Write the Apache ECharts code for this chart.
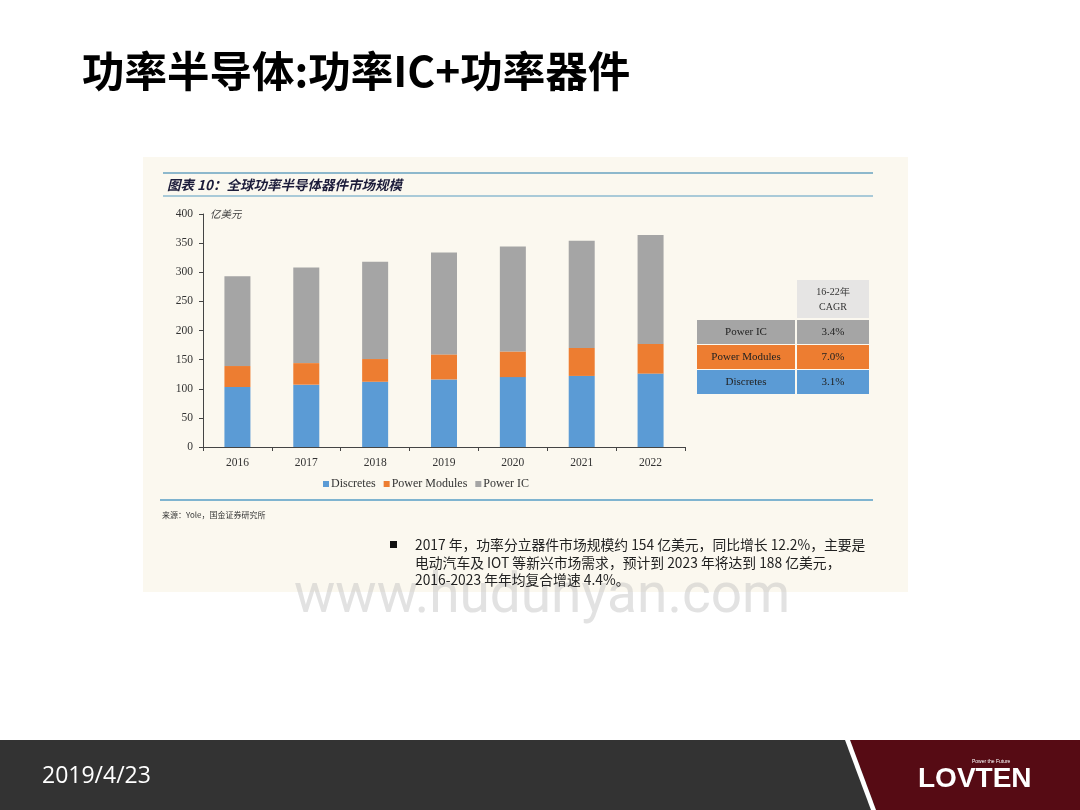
<!DOCTYPE html>
<html>
<head>
<meta charset="utf-8">
<script src="https://cdn.jsdelivr.net/npm/echarts@6/dist/echarts.min.js"></script>
<style>
html,body{margin:0;padding:0;background:#ffffff;}
#main{width:1080px;height:810px;}
</style>
</head>
<body>
<div id="main"></div>
<script>
// ---- data ----
var categories = ['2016', '2017', '2018', '2019', '2020', '2021', '2022'];
var discretes = [103, 107, 112, 116, 120, 122, 126];
var powerModules = [36, 37, 39, 43, 44, 48, 51];
var powerIC = [154, 164, 167, 175, 180, 184, 187];
var seriesNames = ['Discretes', 'Power Modules', 'Power IC'];
var tableRows = ['Power IC', 'Power Modules', 'Discretes'];
var tableCagr = ['3.4%', '7.0%', '3.1%'];
var tableHeader = ['16-22年', 'CAGR'];
var titleText = '功率半导体:功率IC+功率器件';
var captionText = '图表 10：全球功率半导体器件市场规模';
var unitText = '亿美元';
var sourceText = '来源：Yole，国金证券研究所';
var paraLines = [
  '2017 年，功率分立器件市场规模约 154 亿美元，同比增长 12.2%，主要是',
  '电动汽车及 IOT 等新兴市场需求，预计到 2023 年将达到 188 亿美元，',
  '2016-2023 年年均复合增速 4.4%。'
];
var dateText = '2019/4/23';
var logoText = 'LOVTEN';
var logoSub = 'Power the Future';
var watermarkText = 'www.hudunyan.com';

var colors = {blue: '#5b9bd5', orange: '#ed7d31', gray: '#a5a5a5'};
var rowColors = [colors.gray, colors.orange, colors.blue];
var serif = '"Liberation Serif", "DejaVu Serif", serif';
var cjk = '"Noto Sans CJK SC", sans-serif';

var chart = echarts.init(document.getElementById('main'), null, {renderer: 'canvas'});

var graphics = [];
// beige image background
graphics.push({type: 'rect', z: -20, shape: {x: 143, y: 157, width: 765, height: 435}, style: {fill: '#fbf8ef'}});
// watermark
graphics.push({type: 'text', z: -5, left: 294, top: 571, style: {text: watermarkText, font: '55px Roboto, "Liberation Sans", sans-serif', fill: 'rgba(190,190,190,0.45)'}});
// caption lines
graphics.push({type: 'line', z: -10, shape: {x1: 163, y1: 173, x2: 873, y2: 173}, style: {stroke: '#8db8cc', lineWidth: 2}});
graphics.push({type: 'line', z: -10, shape: {x1: 163, y1: 196, x2: 873, y2: 196}, style: {stroke: '#a9cad8', lineWidth: 2}});
graphics.push({type: 'line', z: -10, shape: {x1: 160, y1: 500, x2: 873, y2: 500}, style: {stroke: '#7fb4d0', lineWidth: 2}});
graphics.push({type: 'text', x: 167, y: 185, style: {text: captionText, font: 'italic bold 13.5px ' + cjk, fill: '#1c1c3a', textVerticalAlign: 'middle'}});
graphics.push({type: 'text', x: 210, y: 214, style: {text: unitText, font: 'italic 10.5px ' + cjk, fill: '#444', textVerticalAlign: 'middle'}});
graphics.push({type: 'text', x: 162, y: 515, style: {text: sourceText, font: '8px ' + cjk, fill: '#333', textVerticalAlign: 'middle'}});
// paragraph
graphics.push({type: 'rect', shape: {x: 390, y: 541, width: 7, height: 7}, style: {fill: '#111'}});
paraLines.forEach(function (t, i) {
  graphics.push({type: 'text', x: 415, y: 545 + i * 17.5, style: {text: t, font: '13.8px ' + cjk, fill: '#222', textVerticalAlign: 'middle'}});
});
// table
graphics.push({type: 'rect', shape: {x: 797, y: 280, width: 72, height: 38}, style: {fill: '#e6e5e4'}});
graphics.push({type: 'text', x: 833, y: 292, style: {text: tableHeader[0], font: '10px ' + serif, fill: '#333', textAlign: 'center', textVerticalAlign: 'middle'}});
graphics.push({type: 'text', x: 833, y: 307, style: {text: tableHeader[1], font: '10px ' + serif, fill: '#333', textAlign: 'center', textVerticalAlign: 'middle'}});
tableRows.forEach(function (name, i) {
  var y0 = 320 + i * 25;
  graphics.push({type: 'rect', shape: {x: 697, y: y0, width: 98, height: 24}, style: {fill: rowColors[i]}});
  graphics.push({type: 'rect', shape: {x: 797, y: y0, width: 72, height: 24}, style: {fill: rowColors[i]}});
  graphics.push({type: 'text', x: 746, y: y0 + 12, style: {text: name, font: '11px ' + serif, fill: '#222', textAlign: 'center', textVerticalAlign: 'middle'}});
  graphics.push({type: 'text', x: 833, y: y0 + 12, style: {text: tableCagr[i], font: '11px ' + serif, fill: '#222', textAlign: 'center', textVerticalAlign: 'middle'}});
});
// title
graphics.push({type: 'text', x: 82, y: 71, style: {text: titleText, font: 'bold 42.5px ' + cjk, fill: '#000', textVerticalAlign: 'middle'}});
// footer
graphics.push({type: 'rect', shape: {x: 0, y: 740, width: 1080, height: 70}, style: {fill: '#333333'}});
graphics.push({type: 'polygon', shape: {points: [[850, 740], [1080, 740], [1080, 810], [876, 810]]}, style: {fill: '#560b14'}});
graphics.push({type: 'polygon', shape: {points: [[845, 740], [850, 740], [876, 810], [871, 810]]}, style: {fill: '#ffffff'}});
graphics.push({type: 'text', x: 42, y: 776, style: {text: dateText, font: '23px "Open Sans", sans-serif', fill: '#ffffff', textVerticalAlign: 'middle'}});
graphics.push({type: 'text', x: 918, y: 779, style: {text: logoText, font: '900 28px "Liberation Sans", Arial, sans-serif', fill: '#ffffff', textVerticalAlign: 'middle'}});
graphics.push({type: 'text', x: 972, y: 762, style: {text: logoSub, font: '5px "Liberation Sans", sans-serif', fill: '#ffffff', textVerticalAlign: 'middle'}});

var option = {
  animation: false,
  backgroundColor: 'transparent',
  color: [colors.blue, colors.orange, colors.gray],
  grid: {left: 203, top: 214, width: 482, height: 233, containLabel: false},
  legend: {
    data: seriesNames,
    left: 318, top: 473,
    icon: 'rect', itemWidth: 6, itemHeight: 6, itemGap: 8,
    textStyle: {fontFamily: serif, fontSize: 12, color: '#333', padding: [0, 0, 0, -3]}
  },
  xAxis: {
    type: 'category',
    data: categories,
    axisLine: {lineStyle: {color: '#444', width: 1}},
    axisTick: {show: true, length: 4, lineStyle: {color: '#444'}},
    axisLabel: {fontFamily: serif, fontSize: 11.5, color: '#333', margin: 10}
  },
  yAxis: {
    type: 'value',
    min: 0, max: 400, interval: 50,
    axisLine: {show: true, lineStyle: {color: '#444', width: 1}},
    axisTick: {show: true, length: 4, lineStyle: {color: '#444'}},
    splitLine: {show: false},
    axisLabel: {fontFamily: serif, fontSize: 11.5, color: '#333', margin: 10}
  },
  series: [
    {name: seriesNames[0], type: 'bar', stack: 'total', barWidth: 26, data: discretes},
    {name: seriesNames[1], type: 'bar', stack: 'total', barWidth: 26, data: powerModules},
    {name: seriesNames[2], type: 'bar', stack: 'total', barWidth: 26, data: powerIC}
  ],
  graphic: {elements: graphics}
};
chart.setOption(option);
</script>
</body>
</html>
